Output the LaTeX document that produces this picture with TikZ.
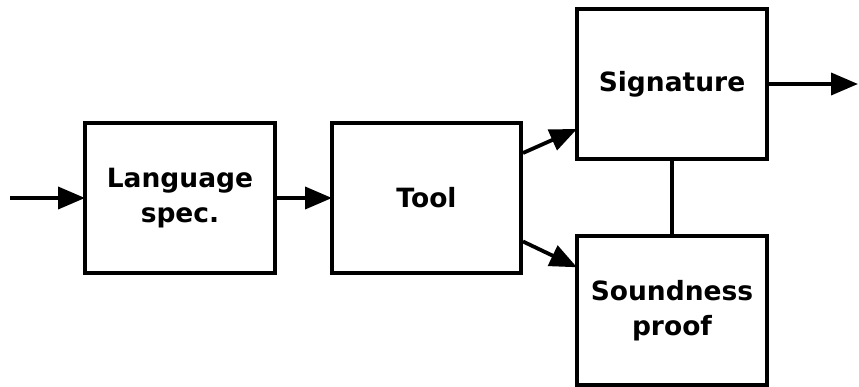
\documentclass[tikz,border=0pt]{standalone}
\usepackage{fontspec}
\setsansfont{DejaVu Sans}
\usetikzlibrary{arrows.meta,calc}
\begin{document}
\begin{tikzpicture}[x=1pt,y=-1pt,
  blk/.style={draw=black,line width=3.8pt,fill=white,rectangle,outer sep=0pt,
    minimum width=190pt,minimum height=150pt,align=center,
    font=\sffamily\bfseries\fontsize{26.5}{35}\selectfont},
  conn/.style={line width=3.8pt},
  arr/.style={line width=3.8pt,-{Triangle[length=27pt,width=22pt]}}]
\useasboundingbox (0,0) rectangle (859,387);
\node[blk] (lang) at (180,198) {Language\\spec.};
\node[blk,minimum width=189pt] (tool) at (426.5,198) {Tool};
\node[blk] (sig) at (672,84) {Signature};
\node[blk,minimum height=149pt] (sound) at (672,310.5) {Soundness\\proof};
\coordinate (in) at (10,198);
\coordinate (out) at (858,84);
\draw[arr] (in) -- (lang.west);
\draw[arr] (lang.east) -- (tool.west);
\draw[arr] ($(tool.north east)!0.2!(tool.south east)+(2,0)$) -- ($(sig.north west)!0.8!(sig.south west)$);
\draw[arr] ($(tool.north east)!0.79!(tool.south east)+(2,0)$) -- ($(sound.north west)!0.21!(sound.south west)$);
\draw[arr] (sig.east) -- (out);
\draw[conn] (sig.south) -- (sound.north);
\end{tikzpicture}
\end{document}
